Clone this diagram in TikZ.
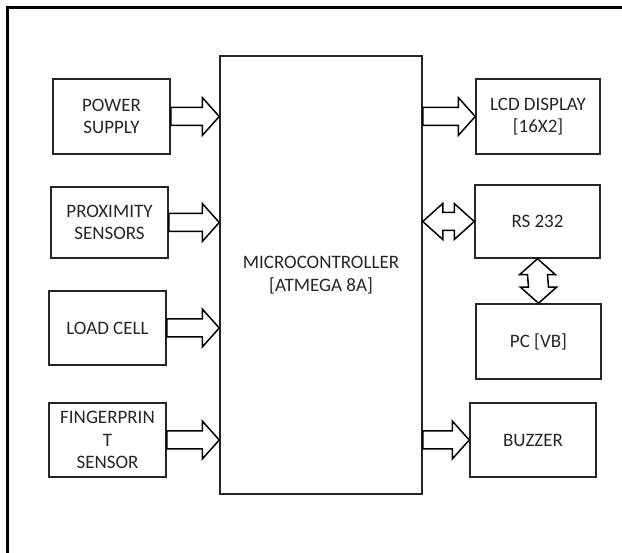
\documentclass[tikz,border=0pt]{standalone}
\usepackage{fontspec}
\setmainfont{Carlito}
\usepackage{tikz}
\usetikzlibrary{calc,positioning}

\tikzset{
  block/.style={draw=black!85, line width=1.5pt, align=center, text=black!85,
    font=\fontsize{19}{22.5}\selectfont, inner sep=2pt},
  fatarrow/.style={draw=black, fill=white, line width=1.5pt, line join=miter},
  frame/.style={line width=2.6pt, black}
}

% fat arrow, tail at #1, tip at #2 (pointing right)
\newcommand{\fatright}[2]{%
  \draw[fatarrow] ($(#1)+(0,-9)$) -- ($(#2)+(-17,-9)$) -- ($(#2)+(-17,-19)$) -- (#2)
    -- ($(#2)+(-17,19)$) -- ($(#2)+(-17,9)$) -- ($(#1)+(0,9)$) -- cycle;}
% fat arrow with two tips, horizontal
\newcommand{\fatboth}[2]{%
  \draw[fatarrow] (#1) -- ($(#1)+(20,-18)$) -- ($(#1)+(20,-9)$) -- ($(#2)+(-20,-9)$)
    -- ($(#2)+(-20,-18)$) -- (#2) -- ($(#2)+(-20,18)$) -- ($(#2)+(-20,9)$)
    -- ($(#1)+(20,9)$) -- ($(#1)+(20,18)$) -- cycle;}
% fat arrow with two tips, vertical
\newcommand{\fatbothv}[2]{%
  \draw[fatarrow] (#1) -- ($(#1)+(-18,16)$) -- ($(#1)+(-10,16)$) -- ($(#2)+(-10,-16)$)
    -- ($(#2)+(-18,-16)$) -- (#2) -- ($(#2)+(18,-16)$) -- ($(#2)+(10,-16)$)
    -- ($(#1)+(10,16)$) -- ($(#1)+(18,16)$) -- cycle;}

\begin{document}
\begin{tikzpicture}[x=1pt,y=-1pt]
    \useasboundingbox (0,0) rectangle (622,553);

    % Outer frame
    \draw[frame] (7.5,553) -- (7.5,7.5) -- (622,7.5);

    % Microcontroller
    \node[block, minimum width=202, minimum height=438] (mcu) at (321,275)
        {MICROCONTROLLER\\{}[ATMEGA 8A]};

    % Inputs
    \node[block, minimum width=117, minimum height=75] (ps) at (111.5,116.5) {POWER\\SUPPLY};
    \node[block, minimum width=117, minimum height=71] (prox) at (109.5,222.5) {PROXIMITY\\SENSORS};
    \node[block, minimum width=117, minimum height=74] (load) at (107.5,328) {LOAD CELL};
    \node[block, minimum width=117, minimum height=74] (finger) at (107.5,440) {FINGERPRIN\\T\\SENSOR};

    % Outputs
    \node[block, minimum width=124, minimum height=75] (lcd) at (538,116.5) {LCD DISPLAY\\{}[16X2]};
    \node[block, minimum width=125, minimum height=73] (rs) at (537.5,221.5) {RS 232};
    \node[block, minimum width=125, minimum height=75] (pc) at (538.5,341.5) {PC [VB]};
    \node[block, minimum width=126, minimum height=74] (buzz) at (533,440) {BUZZER};

    % Arrows into the controller
    \foreach \src in {ps,prox,load,finger}
        \fatright{\src.east}{mcu.west |- \src.east};

    % Arrows out of the controller
    \foreach \dst in {lcd,buzz}
        \fatright{mcu.east |- \dst.west}{\dst.west};
    \fatboth{mcu.east |- rs.west}{rs.west};
    \fatbothv{rs.south}{pc.north};
\end{tikzpicture}
\end{document}
